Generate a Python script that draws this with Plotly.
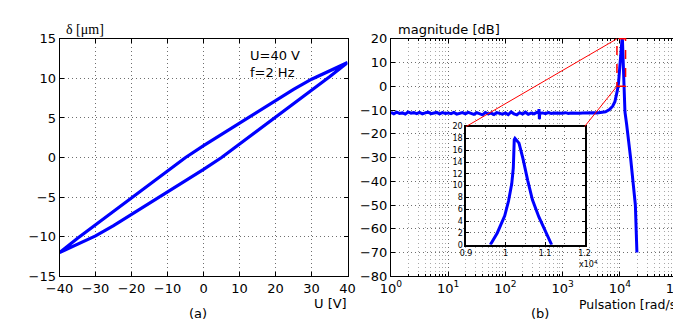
import math
import plotly.graph_objects as go

# ---------------- (a) hysteresis loop ----------------
U_volts = [-40, -35, -30, -25, -20, -15, -10, -5, 0, 5, 10, 15, 20, 25, 30, 35, 40]
delta_upper = [-12.0, -10.2, -8.4, -6.7, -5.0, -3.3, -1.7, 0.0, 1.5, 3.0, 4.4, 5.8, 7.2, 8.6, 9.9, 11.0, 12.0]
delta_lower = [-12.0, -11.0, -9.9, -8.6, -7.2, -5.8, -4.4, -3.0, -1.5, 0.0, 1.7, 3.3, 5.0, 6.7, 8.4, 10.2, 12.0]

# ---------------- (b) frequency response ----------------
freq = [1.0, 1.122, 1.259, 1.413, 1.585, 1.778, 1.995, 2.239, 2.512, 2.818,
        3.162, 3.548, 3.981, 4.467, 5.012, 5.623, 6.310, 7.079, 7.943, 8.913,
        10.0, 11.22, 12.59, 14.13, 15.85, 17.78, 19.95, 22.39, 25.12, 28.18,
        31.62, 35.48, 39.81, 44.67, 50.12, 56.23, 63.10, 70.79, 79.43, 89.13,
        100.0, 112.2, 125.9, 141.3, 158.5, 177.8, 199.5, 223.9, 251.2, 281.8,
        316.2, 354.8, 380.0, 387.0, 393.0, 398.1, 446.7, 501.2, 562.3, 631.0,
        707.9, 794.3, 891.3,
        1000, 1122, 1259, 1413, 1585, 1778, 1995, 2239, 2512, 2818, 3162, 3548, 3981,
        4467, 5012, 5623, 6600, 7500, 8200, 8700, 9100, 9500, 9800, 10100, 10500,
        10900, 11100, 11350, 11600, 12300, 13150, 15400, 18700, 19900]
magnitude_db = [-11.0, -11.6, -10.9, -11.4, -11.2, -11.7, -10.8, -11.3, -11.1, -11.5,
                -11.0, -11.6, -11.2, -10.9, -11.5, -11.3, -11.0, -11.6, -11.1, -11.4,
                -11.2, -11.5, -11.0, -11.7, -11.3, -11.1, -11.6, -11.0, -11.4, -11.8,
                -11.1, -11.5, -12.0, -11.0, -11.6, -11.3, -11.9, -11.1, -11.4, -11.7,
                -11.2, -11.9, -10.8, -11.6, -12.0, -11.1, -11.7, -10.9, -11.8, -11.3,
                -11.6, -11.0, -11.2, -9.6, -13.8, -11.4, -11.2, -11.5, -11.1, -11.4,
                -11.2, -11.3, -11.1,
                -11.3, -11.1, -11.4, -11.2, -11.3, -11.1, -11.3, -11.2, -11.1, -11.3, -11.2, -11.1, -11.2,
                -11.1, -11.0, -10.7, -9.8, -8.4, -6.5, -4.0, -1.5, 1.5, 6.0, 11.0, 16.0,
                19.5, 19.8, 12.0, 0.0, -10.8, -16.0, -30.0, -50.0, -70.0]

# zoom inset (x in units of 1e4 rad/s)
inset_freq = [0.9614, 0.979, 0.9978, 1.0075, 1.0156, 1.0196, 1.022, 1.0237, 1.034,
              1.0439, 1.056, 1.068, 1.0843, 1.1005, 1.1167]
inset_db = [0.0, 2.0, 4.9, 7.4, 10.3, 13.0, 17.8, 18.0, 17.2, 14.6, 10.9, 7.6, 4.7, 2.3, 0.0]

zoom_box_freq = [8900, 12600]
zoom_box_db = [0, 20]

x_ticks_a = [-40, -30, -20, -10, 0, 10, 20, 30, 40]
y_ticks_a = [-15, -10, -5, 0, 5, 10, 15]
x_ticks_b = [1, 10, 100, 1000, 10000, 100000]
x_ticktext_b = ["10<sup>0</sup>", "10<sup>1</sup>", "10<sup>2</sup>", "10<sup>3</sup>",
                "10<sup>4</sup>", "10<sup>5</sup>"]
y_ticks_b = [-80, -70, -60, -50, -40, -30, -20, -10, 0, 10, 20]
inset_xticks = [0.9, 1.0, 1.1, 1.2]
inset_xticktext = ["0.9", "1", "1.1", "1.2"]
inset_xminor = [0.95, 1.05, 1.15]
inset_yticks = [0, 2, 4, 6, 8, 10, 12, 14, 16, 18, 20]

# ---------------- layout geometry ----------------
W, H = 681, 322
XL = [39 / W, 338 / W]
YD = [1 - 274 / H, 1 - 25 / H]
XR = [383 / W, 680 / W]
XI = [461 / W, 584 / W]
YI = [1 - 241 / H, 1 - 117 / H]

FONT = "DejaVu Sans"
BLUE = "#0000FF"
RED = "#FF0000"
GRID = "#6e6e6e"
GRID_MINOR = "#a8a8a8"
DOT = "1px,3px"

minor_vals = [m * 10 ** d for d in range(0, 5) for m in range(2, 10)]

fig = go.Figure()

fig.add_trace(go.Scatter(x=U_volts + U_volts[::-1], y=delta_lower + delta_upper[::-1],
                         mode="lines", line=dict(color=BLUE, width=3.2),
                         xaxis="x", yaxis="y", showlegend=False))

fig.add_trace(go.Scatter(x=freq, y=magnitude_db, mode="lines",
                         line=dict(color=BLUE, width=3), xaxis="x2", yaxis="y2",
                         showlegend=False))

# white cover for the inset (drawn above the main plot's grid)
fig.add_trace(go.Scatter(x=[0.9, 1.2, 1.2, 0.9, 0.9], y=[0, 0, 20, 20, 0], fill="toself",
                         fillcolor="white", mode="none", xaxis="x3", yaxis="y3",
                         showlegend=False, hoverinfo="skip"))

fig.add_trace(go.Scatter(x=inset_freq, y=inset_db, mode="lines",
                         line=dict(color=BLUE, width=3), xaxis="x4", yaxis="y4",
                         showlegend=False))

axis_common = dict(showline=True, linecolor="black", linewidth=1, mirror="ticks",
                   ticks="inside", ticklen=4, tickcolor="black", showgrid=True,
                   gridcolor=GRID, griddash=DOT, gridwidth=1, zeroline=False,
                   ticklabeloverflow="allow",
                   tickfont=dict(family=FONT, size=13, color="black"))

inset_common = dict(showline=True, linecolor="black", linewidth=1.5, mirror="ticks",
                    ticks="inside", ticklen=3, tickcolor="black", showgrid=True,
                    gridcolor=GRID, griddash=DOT, zeroline=False,
                    ticklabeloverflow="allow",
                    tickfont=dict(family=FONT, size=8, color="black"))

fig.update_layout(
    width=W, height=H, margin=dict(l=0, r=0, t=0, b=0),
    paper_bgcolor="white", plot_bgcolor="white",
    font=dict(family=FONT, size=13, color="black"),
    xaxis=dict(domain=XL, range=[-40, 40], tickvals=x_ticks_a, anchor="y", **axis_common),
    yaxis=dict(domain=YD, range=[-15, 15], tickvals=y_ticks_a, anchor="x", **axis_common),
    xaxis2=dict(domain=XR, type="log", range=[0, 5], tickvals=x_ticks_b, ticktext=x_ticktext_b,
                anchor="y2",
                minor=dict(tickvals=minor_vals, ticks="inside", ticklen=2, tickcolor="black",
                           showgrid=True, gridcolor=GRID_MINOR, griddash=DOT, gridwidth=1),
                **axis_common),
    yaxis2=dict(domain=YD, range=[-80, 20], tickvals=y_ticks_b, anchor="x2", **axis_common),
    xaxis3=dict(domain=XI, range=[0.9, 1.2], visible=False, anchor="y3"),
    yaxis3=dict(domain=YI, range=[0, 20], visible=False, anchor="x3"),
    xaxis4=dict(domain=XI, range=[0.9, 1.2], tickvals=inset_xticks, ticktext=inset_xticktext,
                anchor="y4",
                minor=dict(tickvals=inset_xminor, ticks="", showgrid=True,
                           gridcolor=GRID, griddash=DOT),
                **inset_common),
    yaxis4=dict(domain=YI, range=[0, 20], tickvals=inset_yticks, anchor="x4", **inset_common),
)


def px_main(f):
    return XR[0] + math.log10(f) / 5 * (XR[1] - XR[0])


def py_main(db):
    return YD[0] + (db + 80) / 100 * (YD[1] - YD[0])


# dashed zoom rectangle
fig.add_shape(type="rect", xref="paper", yref="paper",
              x0=px_main(zoom_box_freq[0]), x1=px_main(zoom_box_freq[1]),
              y0=py_main(zoom_box_db[0]), y1=py_main(zoom_box_db[1]),
              line=dict(color=RED, width=1.5, dash="dash"), layer="above")
# connector lines
fig.add_shape(type="line", xref="paper", yref="paper", x0=XI[0], y0=YI[1],
              x1=px_main(zoom_box_freq[0]), y1=py_main(zoom_box_db[1]),
              line=dict(color=RED, width=1), layer="above")
fig.add_shape(type="line", xref="paper", yref="paper", x0=XI[1], y0=YI[1],
              x1=px_main(zoom_box_freq[0]), y1=py_main(zoom_box_db[0]),
              line=dict(color=RED, width=1), layer="above")


def note(text, x, y, xanchor="left", size=13, family=FONT):
    fig.add_annotation(text=text, x=x / W, y=1 - y / H, xref="paper", yref="paper",
                       xanchor=xanchor, yanchor="middle", showarrow=False,
                       font=dict(family=family, size=size, color="black"))


note("δ [μm]", 44, 15, size=14, family="Liberation Serif")
note("U=40 V", 235, 42)
note("f=2 Hz", 235, 60)
note("U [V]", 339, 303, xanchor="right")
note("(a)", 183, 313, xanchor="center")
note("magnitude [dB]", 388, 15)
note("Pulsation [rad/s]", 576, 304, size=12.5)
note("(b)", 538, 313, xanchor="center")
note("x10<sup>4</sup>", 576, 261, size=8)

fig.write_html("out.html")
